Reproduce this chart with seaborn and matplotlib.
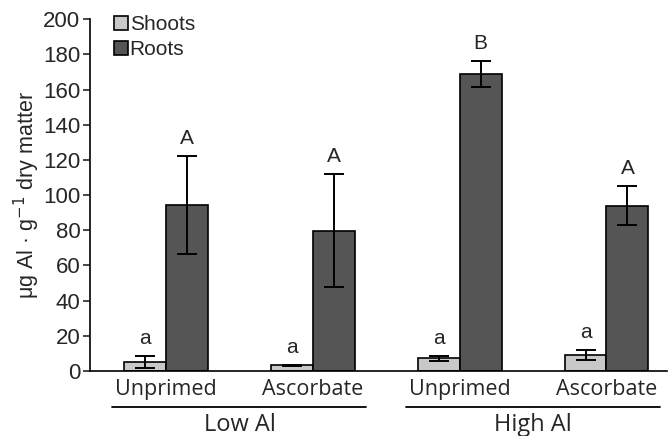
import matplotlib
matplotlib.use("Agg")
import matplotlib.pyplot as plt
import matplotlib.transforms as mtransforms
import seaborn as sns
import pandas as pd

# values
conditions = ["Low Al Unprimed", "Low Al Ascorbate", "High Al Unprimed", "High Al Ascorbate"]
tick_labels = ["Unprimed", "Ascorbate", "Unprimed", "Ascorbate"]
groups = ["Low Al", "High Al"]
shoots = [5.2, 3.2, 7.2, 9.2]
shoots_err = [3.2, 0.5, 1.4, 3.0]
roots = [94.5, 79.8, 169.0, 94.0]
roots_err = [28.0, 32.0, 7.5, 11.2]
shoot_letters = ["a", "a", "a", "a"]
root_letters = ["A", "A", "B", "A"]

df = pd.DataFrame({
    "condition": conditions * 2,
    "tissue": ["Shoots"] * 4 + ["Roots"] * 4,
    "value": shoots + roots,
    "err": shoots_err + roots_err,
})
letters = shoot_letters + root_letters

sns.set_style("white")
plt.rcParams["font.family"] = ["Liberation Sans", "DejaVu Sans"]

fig = plt.figure(figsize=(6.68, 4.36), dpi=100)
ax = fig.add_axes([0.135, 0.149, 0.863, 0.807])

sns.barplot(data=df, x="condition", y="value", hue="tissue", order=conditions,
            hue_order=["Shoots", "Roots"], palette=["#c8c8c8", "#555555"],
            width=0.57, edgecolor="black", linewidth=1.2, errorbar=None, ax=ax)

# error bars and letters, one per bar (patches come out hue by hue)
bars = [p for p in ax.patches if p.get_height() > 0][:len(df)]
for bar, (_, row), lab in zip(bars, df.iterrows(), letters):
    xc = bar.get_x() + bar.get_width() / 2
    ax.errorbar(xc, row["value"], yerr=row["err"], fmt="none", ecolor="black",
                elinewidth=1.4, capsize=7, capthick=1.4)
    ax.text(xc, row["value"] + row["err"] + 4.5, lab, ha="center", va="bottom",
            fontsize=15)

ax.set_ylim(0, 200)
ax.set_yticks(range(0, 201, 20))
ax.set_xlim(-0.517, 3.41)
ax.set_xticks([])
ax.set_xlabel("")
ax.set_ylabel(r"μg Al · g$^{-1}$ dry matter", fontsize=15.5, labelpad=1)
ax.tick_params(axis="y", labelsize=16, direction="out", length=5, width=1.2,
               left=True, pad=2)
sns.despine(ax=ax)
for s in ["left", "bottom"]:
    ax.spines[s].set_linewidth(1.2)
    ax.spines[s].set_color("black")

# category and group labels below the axis
trans = mtransforms.blended_transform_factory(ax.transData, ax.transAxes)
for i, lab in enumerate(tick_labels):
    ax.text(i, -0.053, lab, transform=trans, ha="center", va="center",
            fontsize=15.5, family=["Open Sans", "DejaVu Sans"])
for g, name in enumerate(groups):
    c = 2 * g + 0.5
    ax.plot([c - 0.865, c + 0.865], [-0.102, -0.102], transform=trans,
            color="black", lw=1.3, clip_on=False)
    ax.text(c, -0.152, name, transform=trans, ha="center", va="center",
            fontsize=17, family=["Open Sans", "DejaVu Sans"])

leg = ax.legend(loc="upper left", bbox_to_anchor=(0.027, 1.035), frameon=False,
                fontsize=15, handlelength=0.65, handleheight=0.65,
                handletextpad=0.1, labelspacing=0.3, borderaxespad=0)

fig.savefig("out.png", dpi=100)
